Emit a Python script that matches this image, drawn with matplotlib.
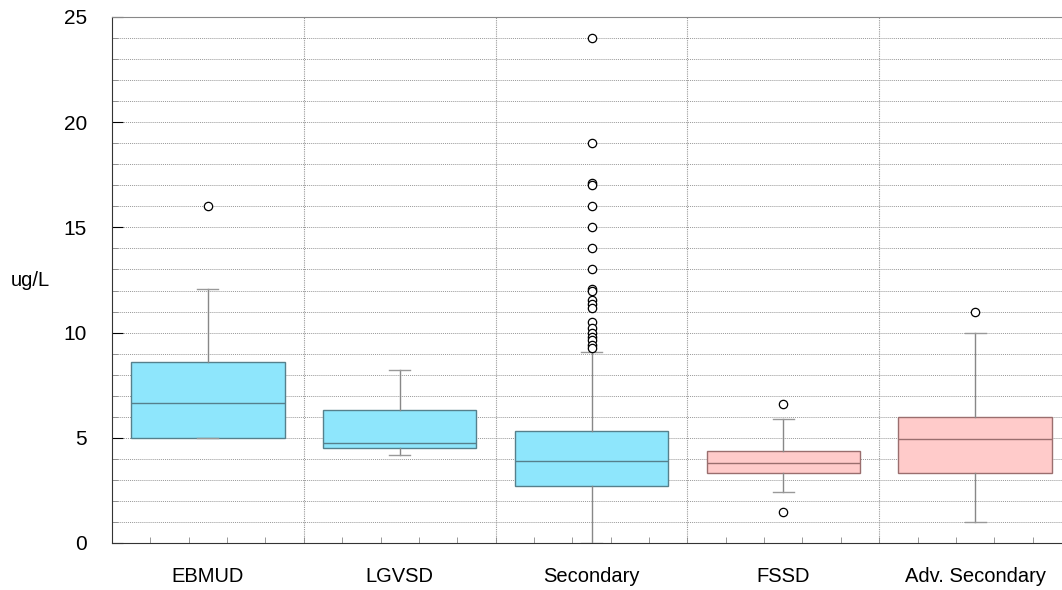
import matplotlib
matplotlib.use("Agg")
import matplotlib.pyplot as plt
import numpy as np

plt.rcParams["font.family"] = ["Liberation Sans", "DejaVu Sans"]

# values
categories = ["EBMUD", "LGVSD", "Secondary", "FSSD", "Adv. Secondary"]
whisker_low = [5.0, 4.2, 0.0, 2.41, 0.98]
q1 = [5.0, 4.5, 2.71, 3.31, 3.31]
median = [6.64, 4.74, 3.88, 3.79, 4.96]
q3 = [8.59, 6.31, 5.31, 4.39, 6.0]
whisker_high = [12.05, 8.21, 9.06, 5.88, 10.0]
outliers = [
    [16.0],
    [],
    [24.0, 19.0, 17.1, 17.0, 16.0, 15.0, 14.0, 13.0, 12.05, 12.0,
     11.55, 11.35, 11.15, 10.5, 10.2, 10.0, 9.8, 9.65, 9.4, 9.25],
    [6.59, 1.49],
    [11.0],
]
box_colors = ["#8ee6fc", "#8ee6fc", "#8ee6fc", "#ffcbca", "#ffcbca"]
edge_colors = ["#56808c", "#56808c", "#56808c", "#9a6e6e", "#9a6e6e"]

fig = plt.figure(figsize=(10.62, 5.9), dpi=100)
ax = fig.add_axes([112 / 1062, 47 / 590, 959 / 1062, 526 / 590])

positions = np.arange(1, len(categories) + 1)
stats = []
for i, name in enumerate(categories):
    stats.append({
        "label": name,
        "whislo": whisker_low[i],
        "q1": q1[i],
        "med": median[i],
        "q3": q3[i],
        "whishi": whisker_high[i],
        "fliers": outliers[i],
    })

bp = ax.bxp(
    stats,
    positions=positions,
    widths=0.8,
    capwidths=0.11,
    patch_artist=True,
    flierprops=dict(marker="o", markersize=6, markerfacecolor="white",
                    markeredgecolor="black", markeredgewidth=0.9),
    whiskerprops=dict(color="#888888", linewidth=1.0),
    capprops=dict(color="#999999", linewidth=1.0),
    zorder=3,
)
for i, box in enumerate(bp["boxes"]):
    box.set_facecolor(box_colors[i])
    box.set_edgecolor(edge_colors[i])
    box.set_linewidth(1.0)
    bp["medians"][i].set_color(edge_colors[i])
    bp["medians"][i].set_linewidth(1.0)

# grid: horizontal every unit, vertical between groups
ax.set_ylim(0, 25)
ax.set_xlim(0.5, len(categories) + 0.5)
ax.set_yticks(np.arange(0, 26, 5))
ax.set_yticks(np.arange(0, 26, 1), minor=True)
ax.yaxis.grid(True, which="both", linestyle=(0, (1, 1)), color="#999999",
              linewidth=0.7, zorder=0)
for b in np.arange(1.5, len(categories), 1.0):
    ax.axvline(b, linestyle=(0, (1, 1)), color="#999999", linewidth=0.8, zorder=0)

ax.set_xticks(positions, categories)
ax.set_xticks(np.arange(0.5, len(categories) + 0.51, 0.2), minor=True)
ax.tick_params(axis="x", which="major", length=0, pad=17, labelsize=14.5)
ax.tick_params(axis="x", which="minor", direction="in", length=4,
               color="#888888")
ax.tick_params(axis="y", which="major", direction="in", length=8,
               pad=18, labelsize=15)
ax.tick_params(axis="y", which="minor", direction="in", length=4,
               color="#888888")

ax.spines["top"].set_color("#888888")
ax.spines["right"].set_visible(False)
ax.spines["left"].set_color("#333333")
ax.spines["bottom"].set_color("#333333")

ax.set_ylabel("ug/L", rotation=0, fontsize=14.5, ha="center", va="center")
ax.yaxis.set_label_coords(-0.0855, 0.5)

fig.savefig("out.png", dpi=100)
